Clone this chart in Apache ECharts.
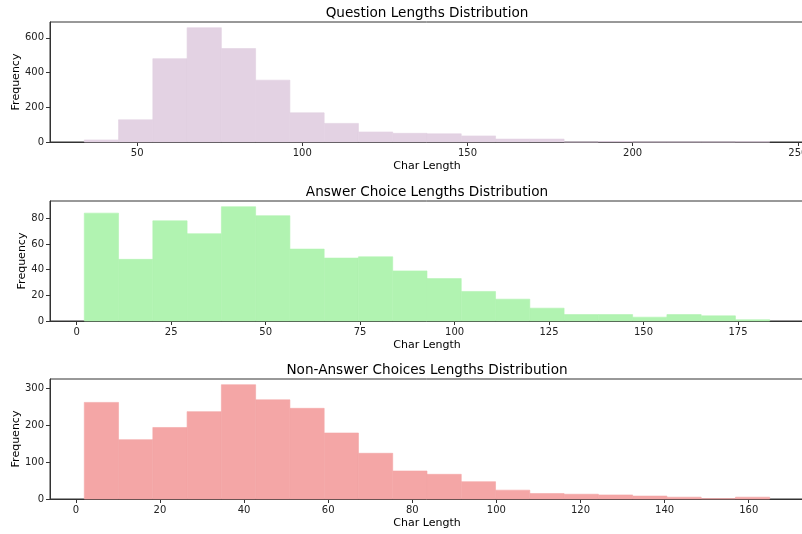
<!DOCTYPE html>
<html>
<head>
    <meta charset="utf-8">
    <title>Length Distributions</title>
    <script src="https://cdn.jsdelivr.net/npm/echarts@6/dist/echarts.min.js"></script>
    <style>
        html, body { margin: 0; padding: 0; background: #fff; }
        #main { width: 802px; height: 534px; }
    </style>
</head>
<body>
    <div id="main"></div>

    <script type="text/javascript">
        // histogram data (20 bins each)
        var questionMin = 34, questionMax = 241.5;
        var questionCounts = [12, 128, 480, 658, 538, 356, 168, 107, 58, 50, 47, 35, 17, 17, 0, 3, 0, 0, 0, 1];
        var questionTicks = [50, 100, 150, 200, 250];
        var questionYTicks = [0, 200, 400, 600];

        var answerMin = 2, answerMax = 183.4;
        var answerCounts = [84, 48, 78, 68, 89, 82, 56, 49, 50, 39, 33, 23, 17, 10, 5, 5, 3, 5, 4, 1];
        var answerTicks = [0, 25, 50, 75, 100, 125, 150, 175];
        var answerYTicks = [0, 20, 40, 60, 80];

        var nonAnswerMin = 2, nonAnswerMax = 165;
        var nonAnswerCounts = [262, 161, 194, 237, 310, 269, 246, 179, 124, 76, 67, 47, 24, 15, 13, 11, 8, 5, 1, 5];
        var nonAnswerTicks = [0, 20, 40, 60, 80, 100, 120, 140, 160];
        var nonAnswerYTicks = [0, 100, 200, 300];

        var titles = ['Question Lengths Distribution', 'Answer Choice Lengths Distribution', 'Non-Answer Choices Lengths Distribution'];
        var colors = ['#e3d2e3', '#b1f3b1', '#f4a6a6'];

        var panels = [
            { min: questionMin, max: questionMax, counts: questionCounts, xt: questionTicks, yt: questionYTicks, top: 22, ygap: 28 },
            { min: answerMin, max: answerMax, counts: answerCounts, xt: answerTicks, yt: answerYTicks, top: 201, ygap: 22 },
            { min: nonAnswerMin, max: nonAnswerMax, counts: nonAnswerCounts, xt: nonAnswerTicks, yt: nonAnswerYTicks, top: 379, ygap: 28 }
        ];

        var font = 'DejaVu Sans';
        var option = { animation: false, title: [], grid: [], xAxis: [], yAxis: [], series: [] };

        panels.forEach(function (p, i) {
            var w = (p.max - p.min) / p.counts.length;
            var bins = [];
            for (var k = 0; k < p.counts.length; k++) {
                bins.push([p.min + k * w, p.min + (k + 1) * w, p.counts[k]]);
            }
            var ymax = Math.max.apply(null, p.counts) * 1.05;

            option.title.push({
                text: titles[i],
                left: 422, top: p.top - 21, textAlign: 'center',
                textStyle: { fontFamily: font, fontSize: 13.6, fontWeight: 'normal', color: '#000' }
            });
            option.grid.push({
                left: 50, top: p.top, width: 754, height: 120,
                outerBoundsMode: 'none', containLabel: false,
                show: true, borderColor: '#333', borderWidth: 1
            });
            option.xAxis.push({
                type: 'value', gridIndex: i,
                min: p.min - w, max: p.max + w,
                splitLine: { show: false },
                axisLine: { onZero: false, lineStyle: { color: '#333' } },
                axisTick: { length: 4, lineStyle: { color: '#333' }, customValues: p.xt },
                axisLabel: { margin: 6, fontFamily: font, fontSize: 10, color: '#222', customValues: p.xt },
                name: 'Char Length', nameLocation: 'middle', nameGap: 19, nameMoveOverlap: false,
                nameTextStyle: { fontFamily: font, fontSize: 11, color: '#000' }
            });
            option.yAxis.push({
                type: 'value', gridIndex: i,
                min: 0, max: ymax,
                splitLine: { show: false },
                axisLine: { show: true, onZero: false, lineStyle: { color: '#333' } },
                axisTick: { show: true, length: 4, lineStyle: { color: '#333' }, customValues: p.yt },
                axisLabel: { margin: 6, fontFamily: font, fontSize: 10, color: '#222', customValues: p.yt },
                name: 'Frequency', nameLocation: 'middle', nameGap: p.ygap, nameMoveOverlap: false,
                nameTextStyle: { fontFamily: font, fontSize: 11, color: '#000' }
            });
            option.series.push({
                type: 'custom', xAxisIndex: i, yAxisIndex: i,
                data: bins,
                encode: { x: [0, 1], y: 2 },
                renderItem: function (params, api) {
                    var a = api.coord([api.value(0), api.value(2)]);
                    var b = api.coord([api.value(1), 0]);
                    return {
                        type: 'rect',
                        shape: { x: a[0], y: a[1], width: b[0] - a[0], height: b[1] - a[1] },
                        style: { fill: colors[i], stroke: colors[i], lineWidth: 0.6 }
                    };
                }
            });
        });

        var myChart = echarts.init(document.getElementById('main'));
        myChart.setOption(option);
    </script>
</body>
</html>
